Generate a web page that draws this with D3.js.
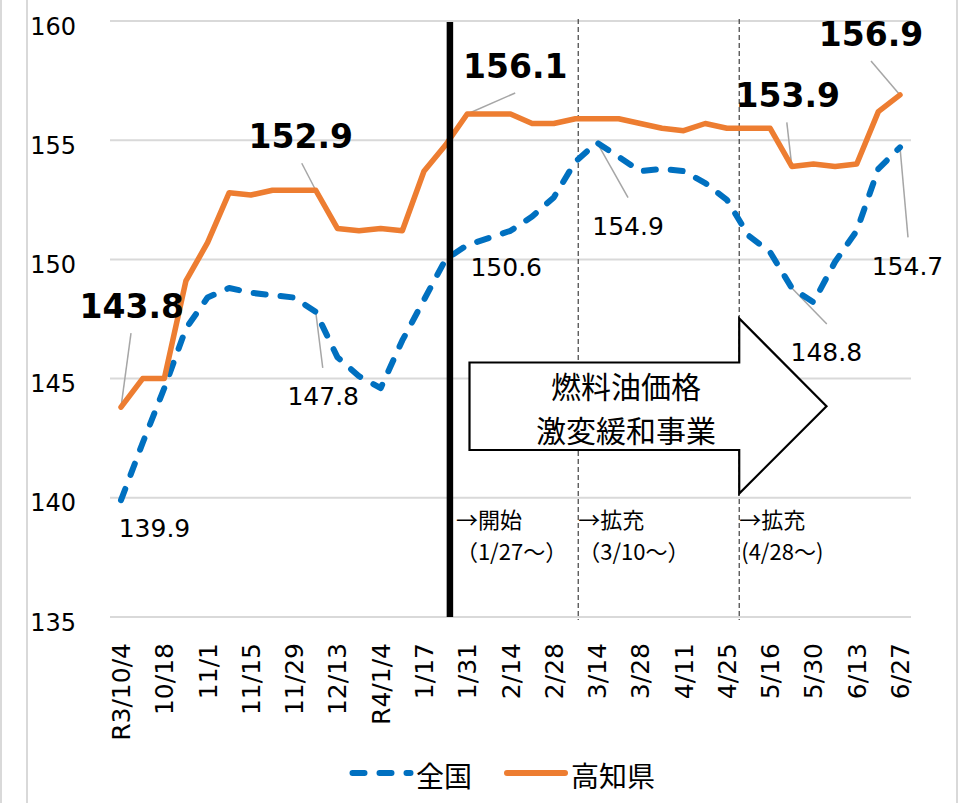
<!DOCTYPE html>
<html>
<head>
<meta charset="utf-8">
<script src="https://cdn.jsdelivr.net/npm/d3@7"></script>
<style>
body { margin: 0; background: #fff; }
svg { display: block; }
.num { font-family: "DejaVu Sans", Verdana, sans-serif; fill: #000; }
.jp { font-family: "Noto Sans CJK JP", sans-serif; fill: #000; }
</style>
</head>
<body>
<div class="chart"></div>
<script>
// weekly survey dates (R3/10/4 .. R4/6/27)
var weeks = ["R3/10/4","10/11","10/18","10/25","11/1","11/8","11/15","11/22","11/29","12/6",
	"12/13","12/20","R4/1/4","1/11","1/17","1/24","1/31","2/7","2/14","2/21",
	"2/28","3/7","3/14","3/22","3/28","4/4","4/11","4/18","4/25","5/9",
	"5/16","5/23","5/30","6/6","6/13","6/20","6/27"];
var tickWeeks = ["R3/10/4","10/18","11/1","11/15","11/29","12/13","R4/1/4","1/17","1/31","2/14",
	"2/28","3/14","3/28","4/11","4/25","5/16","5/30","6/13","6/27"];

var national = [139.9,142.3,144.6,147.1,148.4,148.8,148.6,148.5,148.4,147.8,
	145.9,145.1,144.6,146.6,148.3,150.0,150.6,150.9,151.2,151.8,
	152.6,154.1,154.9,154.3,153.7,153.8,153.7,153.2,152.5,151.0,
	150.3,148.8,148.2,149.9,151.2,153.8,154.7];
var kochi = [143.8,145.0,145.0,149.1,150.7,152.8,152.7,152.9,152.9,152.9,
	151.3,151.2,151.3,151.2,153.7,154.8,156.1,156.1,156.1,155.7,
	155.7,155.9,155.9,155.9,155.7,155.5,155.4,155.7,155.5,155.5,
	155.5,153.9,154.0,153.9,154.0,156.2,156.9];
var seriesNames = ["全国", "高知県"];
var yTicks = [135, 140, 145, 150, 155, 160];

// subsidy milestones, as fractional week index (1/27, 3/10, 4/28)
var eventPos = [15.2, 21.13, 28.57];
var eventTitle = ["→開始", "→拡充", "→拡充"];
var eventDate = ["（1/27～）", "（3/10～）", "(4/28～)"];
var arrowText = ["燃料油価格", "激変緩和事業"];

// which points get value labels
var kochiLabelIdx = [0, 9, 16, 31, 36];
var nationalLabelIdx = [0, 9, 16, 22, 31, 36];

var svgWidth = 978;
var svgHeight = 803;

var svg = d3.select(".chart")
	.append("svg")
	.attr("width", svgWidth)
	.attr("height", svgHeight);

var x = d3.scaleLinear().domain([0, weeks.length - 1]).range([121, 900]);
var y = d3.scaleLinear().domain([135, 160]).range([617, 21]);

// outer frame
[1, 27, 957].forEach(function(fx){
	svg.append("line")
		.attr("x1", fx).attr("x2", fx)
		.attr("y1", 0).attr("y2", svgHeight)
		.attr("stroke", "#d9d9d9")
		.attr("stroke-width", 2);
});

// grid
svg.append("g").selectAll("line")
	.data(yTicks)
	.enter().append("line")
		.attr("x1", 110).attr("x2", 911)
		.attr("y1", function(d){ return y(d); })
		.attr("y2", function(d){ return y(d); })
		.attr("stroke", "#d9d9d9")
		.attr("stroke-width", 2);

var yAxis = d3.axisLeft(y).tickValues(yTicks).tickSize(0).tickPadding(0);
var gy = svg.append("g")
	.attr("transform", "translate(76,0)")
	.call(yAxis);
gy.select(".domain").remove();
gy.selectAll("text")
	.attr("class", "num")
	.attr("font-size", 24)
	.attr("dy", 13)
	.style("font-family", "'DejaVu Sans', Verdana, sans-serif");

// x labels, every other week
svg.append("g").selectAll("text")
	.data(tickWeeks)
	.enter().append("text")
		.attr("class", "num")
		.attr("font-size", 25)
		.attr("text-anchor", "end")
		.attr("dy", "0.36em")
		.attr("transform", function(d){
			return "translate(" + x(weeks.indexOf(d)) + ",643) rotate(-90)";
		})
		.text(function(d){ return d; });

// thin dashed milestone lines
svg.append("g").selectAll("line")
	.data(eventPos.slice(1))
	.enter().append("line")
		.attr("x1", function(d){ return x(d); })
		.attr("x2", function(d){ return x(d); })
		.attr("y1", 19).attr("y2", 620)
		.attr("stroke", "#404040")
		.attr("stroke-width", 1.2)
		.attr("stroke-dasharray", "5,3");

// block arrow
var ax0 = 469.5, axNeck = x(eventPos[2]), axTip = 826.5;
var ay0 = 362.5, ay1 = 450, ayTop = 318.5, ayBot = 493.5;
svg.append("path")
	.attr("d", "M" + ax0 + "," + ay0 + "L" + axNeck + "," + ay0 + "L" + axNeck + "," + ayTop +
		"L" + axTip + "," + ((ay0 + ay1) / 2) + "L" + axNeck + "," + ayBot +
		"L" + axNeck + "," + ay1 + "L" + ax0 + "," + ay1 + "Z")
	.attr("fill", "#fff")
	.attr("stroke", "#000")
	.attr("stroke-width", 2.2);

svg.append("g").selectAll("text")
	.data(arrowText)
	.enter().append("text")
		.attr("class", "jp")
		.attr("font-size", 30)
		.attr("x", 626)
		.attr("y", function(d, i){ return 385 + i * 44; })
		.attr("text-anchor", "middle")
		.attr("dominant-baseline", "central")
		.text(function(d){ return d; });

// milestone captions
eventPos.forEach(function(p, i){
	var cx = x(p) + (i == 0 ? 6 : 0);
	svg.append("text")
		.attr("class", "jp")
		.attr("font-size", 22)
		.attr("x", cx)
		.attr("y", 517.5)
		.attr("dominant-baseline", "central")
		.text(eventTitle[i]);
	svg.append("text")
		.attr("class", "jp")
		.attr("font-size", 22)
		.attr("x", cx + (i == 2 ? 2 : 0))
		.attr("y", 549.5)
		.attr("dominant-baseline", "central")
		.text(eventDate[i]);
});

// leader lines: [index, series, start dx, start dy]
var leaders = [
	[0, kochi, 10, -74], [9, kochi, -14, -27], [16, kochi, 48, -21], [31, kochi, -5, -44], [36, kochi, -29, -34],
	[9, national, 7, 56], [22, national, 31, 55], [31, national, 35, 36], [36, national, 8, 90]
];
svg.append("g").selectAll("line")
	.data(leaders)
	.enter().append("line")
		.attr("x1", function(d){ return x(d[0]) + d[2]; })
		.attr("y1", function(d){ return y(d[1][d[0]]) + d[3]; })
		.attr("x2", function(d){ return x(d[0]); })
		.attr("y2", function(d){ return y(d[1][d[0]]); })
		.attr("stroke", "#a6a6a6")
		.attr("stroke-width", 1.5);

var line = d3.line()
	.x(function(d, i){ return x(i); })
	.y(function(d){ return y(d); });

svg.append("path")
	.datum(national)
	.attr("d", line)
	.attr("fill", "none")
	.attr("stroke", "#0070c0")
	.attr("stroke-width", 6)
	.attr("stroke-linecap", "round")
	.attr("stroke-linejoin", "round")
	.attr("stroke-dasharray", "12,15");

svg.append("path")
	.datum(kochi)
	.attr("d", line)
	.attr("fill", "none")
	.attr("stroke", "#ed7d31")
	.attr("stroke-width", 5.5)
	.attr("stroke-linecap", "round")
	.attr("stroke-linejoin", "round");

// start line drawn on top
svg.append("line")
	.attr("x1", x(eventPos[0])).attr("x2", x(eventPos[0]))
	.attr("y1", 22).attr("y2", 617)
	.attr("stroke", "#000")
	.attr("stroke-width", 6.5);

// value labels
var kochiOff = [[10.7, -89], [-15, -42], [48, -36], [-4, -59], [-29, -49]];
var nationalOff = [[33.5, 37], [7.5, 93], [39, 31], [31, 92], [34.5, 73], [7.5, 128]];

svg.append("g").selectAll("text")
	.data(kochiLabelIdx)
	.enter().append("text")
		.attr("class", "num")
		.attr("font-size", 33)
		.attr("font-weight", "bold")
		.attr("text-anchor", "middle")
		.attr("x", function(d, i){ return x(d) + kochiOff[i][0]; })
		.attr("y", function(d, i){ return y(kochi[d]) + kochiOff[i][1]; })
		.text(function(d){ return kochi[d].toFixed(1); });

svg.append("g").selectAll("text")
	.data(nationalLabelIdx)
	.enter().append("text")
		.attr("class", "num")
		.attr("font-size", 25)
		.attr("text-anchor", "middle")
		.attr("x", function(d, i){ return x(d) + nationalOff[i][0]; })
		.attr("y", function(d, i){ return y(national[d]) + nationalOff[i][1]; })
		.text(function(d){ return national[d].toFixed(1); });

// legend
var legend = svg.append("g");
legend.append("line")
	.attr("x1", 352.5).attr("x2", 410.5)
	.attr("y1", 773).attr("y2", 773)
	.attr("stroke", "#0070c0")
	.attr("stroke-width", 6)
	.attr("stroke-linecap", "round")
	.attr("stroke-dasharray", "12,15");
legend.append("text")
	.attr("class", "jp")
	.attr("font-size", 28)
	.attr("x", 416)
	.attr("y", 775)
	.attr("dominant-baseline", "central")
	.text(seriesNames[0]);
legend.append("line")
	.attr("x1", 507).attr("x2", 565)
	.attr("y1", 773).attr("y2", 773)
	.attr("stroke", "#ed7d31")
	.attr("stroke-width", 6)
	.attr("stroke-linecap", "round");
legend.append("text")
	.attr("class", "jp")
	.attr("font-size", 28)
	.attr("x", 571)
	.attr("y", 775)
	.attr("dominant-baseline", "central")
	.text(seriesNames[1]);
</script>
</body>
</html>
